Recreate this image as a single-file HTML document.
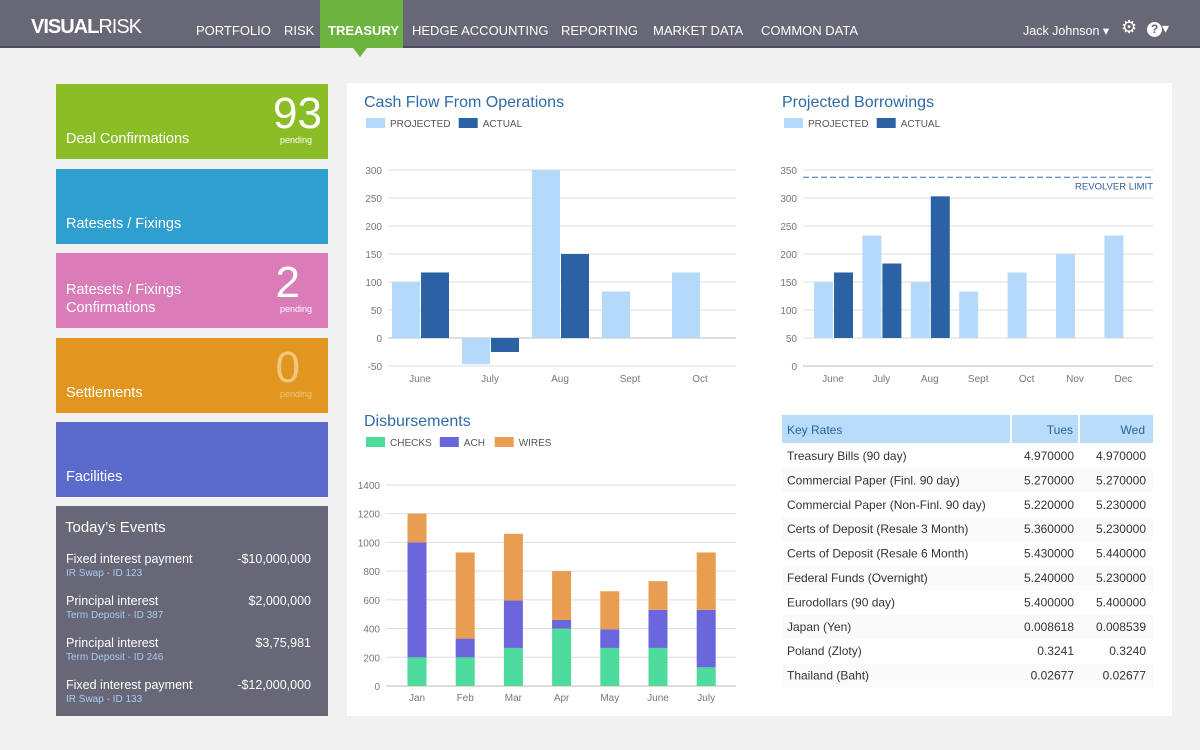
<!DOCTYPE html>
<html><head><meta charset="utf-8">
<style>
*{margin:0;padding:0;box-sizing:border-box}
body{width:1200px;height:750px;background:#f1f1f1;font-family:"Liberation Sans",sans-serif;position:relative;overflow:hidden}
.hdr{position:absolute;left:0;top:0;width:1200px;height:48px;background:#676776;border-bottom:2px solid #4e4e5c}
.logo{position:absolute;left:31px;top:16px;color:#fff;font-size:20px;letter-spacing:-1px}
.nav{position:absolute;top:23px;color:#fff;font-size:13px}
.tre{position:absolute;left:320px;top:0;width:83px;height:48px;background:#6db33f}
.tri{position:absolute;left:353px;top:48px;width:0;height:0;border-left:7px solid transparent;border-right:7px solid transparent;border-top:9px solid #6db33f}
.tile{position:absolute;left:56px;width:272px;height:75px;color:#fff}
.tile .t{position:absolute;left:10px;bottom:11px;font-size:14.5px;line-height:18px}
.tile .n{position:absolute;right:6px;top:6px;font-size:44px;font-weight:300;line-height:48px}
.tile .p{position:absolute;right:16px;top:51px;font-size:9px}
.ev{position:absolute;left:56px;top:506px;width:272px;height:210px;background:#676777;color:#fff}
.ev .h{position:absolute;left:9px;top:13px;font-size:15px}
.e{position:absolute;left:10px;width:244px;font-size:12.5px}
.e .a{position:absolute;right:-1px;top:0}
.e .s{display:block;color:#a9cbf0;font-size:10px;margin-top:2px}
.panel{position:absolute;left:347px;top:83px;width:825px;height:633px;background:#fff}
svg{position:absolute;left:0;top:0}
</style></head><body>
<div class="hdr"></div>
<div class="tre"></div>
<div class="tri"></div>
<div class="logo"><b>VISUAL</b>RISK</div>
<div class="nav" style="left:196px">PORTFOLIO</div>
<div class="nav" style="left:284px">RISK</div>
<div class="nav" style="left:328px;font-weight:bold">TREASURY</div>
<div class="nav" style="left:412px">HEDGE ACCOUNTING</div>
<div class="nav" style="left:561px">REPORTING</div>
<div class="nav" style="left:653px">MARKET DATA</div>
<div class="nav" style="left:761px">COMMON DATA</div>
<div class="nav" style="left:1023px;font-size:12.5px;top:23px">Jack Johnson ▾</div>
<div class="nav" style="left:1121px;font-size:18px;top:17px">⚙</div>
<div class="nav" style="left:1147px;font-size:14px;top:20px"><span style="display:inline-block;width:15px;height:15px;border-radius:50%;background:#fff;color:#676776;font-weight:bold;font-size:12px;text-align:center;line-height:15px">?</span>▾</div>

<div class="tile" style="top:84px;background:#8bbd26"><div class="t">Deal Confirmations</div><div class="n">93</div><div class="p">pending</div></div>
<div class="tile" style="top:169px;background:#2e9fcf"><div class="t">Ratesets / Fixings</div></div>
<div class="tile" style="top:253px;background:#da7cb8"><div class="t">Ratesets / Fixings<br>Confirmations</div><div class="n" style="right:28px">2</div><div class="p">pending</div></div>
<div class="tile" style="top:338px;background:#e0961f"><div class="t">Settlements</div><div class="n" style="right:28px;color:#f0c77f">0</div><div class="p" style="color:#f0c77f">pending</div></div>
<div class="tile" style="top:422px;background:#5a6bcb"><div class="t">Facilities</div></div>
<div class="ev">
<div class="h">Today’s Events</div>
<div class="e" style="top:46px">Fixed interest payment<span class="a">-$10,000,000</span><span class="s">IR Swap - ID 123</span></div>
<div class="e" style="top:88px">Principal interest<span class="a">$2,000,000</span><span class="s">Term Deposit - ID 387</span></div>
<div class="e" style="top:130px">Principal interest<span class="a">$3,75,981</span><span class="s">Term Deposit - ID 246</span></div>
<div class="e" style="top:172px">Fixed interest payment<span class="a">-$12,000,000</span><span class="s">IR Swap - ID 133</span></div>
</div>
<div class="panel"></div>
<svg id="s" width="1200" height="750" font-family="Liberation Sans, sans-serif"></svg>
<script>
const cfCats=['June','July','Aug','Sept','Oct'];
const cfProjected=[100,-47,300,83,117];
const cfActual=[117,-25,150,null,null];
const cfTicks=[-50,0,50,100,150,200,250,300];
const pbCats=['June','July','Aug','Sept','Oct','Nov','Dec'];
const pbProjected=[150,233,150,133,167,200,233];
const pbActual=[167,183,303,null,null,null,null];
const pbTicks=[0,50,100,150,200,250,300,350];
const pbLimit=337;
const dCats=['Jan','Feb','Mar','Apr','May','June','July'];
const dChecks=[200,200,265,400,265,265,130];
const dAch=[800,130,330,60,130,265,400];
const dWires=[200,600,465,340,265,200,400];
const dTicks=[0,200,400,600,800,1000,1200,1400];
const rateNames=['Treasury Bills (90 day)','Commercial Paper (Finl. 90 day)','Commercial Paper (Non-Finl. 90 day)','Certs of Deposit (Resale 3 Month)','Certs of Deposit (Resale 6 Month)','Federal Funds (Overnight)','Eurodollars (90 day)','Japan (Yen)','Poland (Zloty)','Thailand (Baht)'];
const rateTues=['4.970000','5.270000','5.220000','5.360000','5.430000','5.240000','5.400000','0.008618','0.3241','0.02677'];
const rateWed=['4.970000','5.270000','5.230000','5.230000','5.440000','5.230000','5.400000','0.008539','0.3240','0.02677'];

const S=document.getElementById('s');const NS='http://www.w3.org/2000/svg';
function mk(t,a,txt){const e=document.createElementNS(NS,t);for(const k in a)e.setAttribute(k,a[k]);if(txt!=null)e.textContent=txt;S.appendChild(e);return e;}
const LP='#b5daf9',DB='#2b62a3';
function title(x,y,t,leg,nm){
  let e=mk('text',{x:x,y:y,'font-size':16,fill:'#2d6aa8'},t);
  
  
  let lx=x+2;
  leg.forEach(l=>{
    let r=mk('rect',{x:lx,y:y+11,width:19,height:10,fill:l[1]});
    
    
    let tt=mk('text',{x:lx+24,y:y+20,'font-size':10,fill:'#555'},l[0]);
    
    
    lx+=24+l[0].length*6.3+12;
  });
}
function axes(x0,x1,yOf,ticks,nm){
  ticks.forEach(t=>{
    let l=mk('line',{x1:x0,x2:x1,y1:yOf(t),y2:yOf(t),stroke:t===0?'#bbb':'#ddd','stroke-width':1});
    
    
    let tx=mk('text',{x:x0-6,y:yOf(t)+4,'font-size':10,fill:'#777','text-anchor':'end'},t);
    
    
  });
}
function xlabels(cats,xc,y,nm){
  cats.forEach((c,i)=>{let t=mk('text',{x:xc(i),y:y,'font-size':10,fill:'#777','text-anchor':'middle'},c);
  
  });
}
function bar(x,w,y1,y2,fill,nm){
  let r=mk('rect',{x:x,y:Math.min(y1,y2),width:w,height:Math.abs(y2-y1),fill:fill});
  
  
}
title(364,107,'Cash Flow From Operations',[['PROJECTED',LP],['ACTUAL',DB]],'cash-flow');
{const y=v=>338-v*0.56, xc=i=>420+i*70;
 axes(388,736,y,cfTicks,'cash-flow');
 cfCats.forEach((c,i)=>{
  if(cfProjected[i]!=null)bar(xc(i)-28,28,y(0),y(cfProjected[i]),LP,'cash-flow-projected-bar');
  if(cfActual[i]!=null)bar(xc(i)+1,28,y(0),y(cfActual[i]),DB,'cash-flow-actual-bar');
 });
 xlabels(cfCats,xc,382,'cash-flow');}
title(782,107,'Projected Borrowings',[['PROJECTED',LP],['ACTUAL',DB]],'borrowings');
{const y=v=>366-v*0.56, xc=i=>833+i*48.4;
 axes(803,1153,y,pbTicks,'borrowings');
 pbCats.forEach((c,i)=>{
  if(pbProjected[i]!=null)bar(xc(i)-19,19,y(50),y(pbProjected[i]),LP,'borrowings-projected-bar');
  if(pbActual[i]!=null)bar(xc(i)+1,19,y(50),y(pbActual[i]),DB,'borrowings-actual-bar');
 });
 let l=mk('line',{x1:803,x2:1153,y1:y(pbLimit),y2:y(pbLimit),stroke:'#3d6fa8','stroke-dasharray':'6,3'});
 
 
 let t=mk('text',{x:1153,y:y(pbLimit)+12,'font-size':9.5,fill:'#2d5f9a','text-anchor':'end'},'REVOLVER LIMIT');
 
 
 xlabels(pbCats,xc,382,'borrowings');}
title(364,426,'Disbursements',[['CHECKS','#4edb9b'],['ACH','#6a66dc'],['WIRES','#e89d52']],'disbursements');
{const y=v=>686-v*0.1436, xc=i=>417+i*48.2;
 axes(386,736,y,dTicks,'disbursements');
 dCats.forEach((c,i)=>{
  let a=dChecks[i],b=a+dAch[i],w=b+dWires[i];
  bar(xc(i)-9.5,19,y(0),y(a),'#4edb9b','disbursements-checks-bar');
  bar(xc(i)-9.5,19,y(a),y(b),'#6a66dc','disbursements-ach-bar');
  bar(xc(i)-9.5,19,y(b),y(w),'#e89d52','disbursements-wires-bar');
 });
 xlabels(dCats,xc,701,'disbursements');}
{let r=mk('rect',{x:782,y:415,width:371,height:28,fill:'#b8dcfa'});
 
 
 [[1010],[1078]].forEach(v=>{let l=mk('line',{x1:v[0]+1,x2:v[0]+1,y1:415,y2:443,stroke:'#fff','stroke-width':2});
  
  });
 let h=[['Key Rates',787,'start'],['Tues',1073,'end'],['Wed',1145,'end']];
 h.forEach(a=>{let t=mk('text',{x:a[1],y:434,'font-size':12,fill:'#2d5f9a','text-anchor':a[2]},a[0]);
  
  });
 rateNames.forEach((n,i)=>{
  const yy=460+i*24.4;
  if(i%2===1){let b=mk('rect',{x:782,y:yy-16,width:371,height:24,fill:'#fafafa'});
   
   }
  let t1=mk('text',{x:787,y:yy,'font-size':12,fill:'#333'},n);
  
  
  let t2=mk('text',{x:1074,y:yy,'font-size':12,fill:'#333','text-anchor':'end'},rateTues[i]);
  
  
  let t3=mk('text',{x:1146,y:yy,'font-size':12,fill:'#333','text-anchor':'end'},rateWed[i]);
  
  
 });}
</script>
</body></html>
